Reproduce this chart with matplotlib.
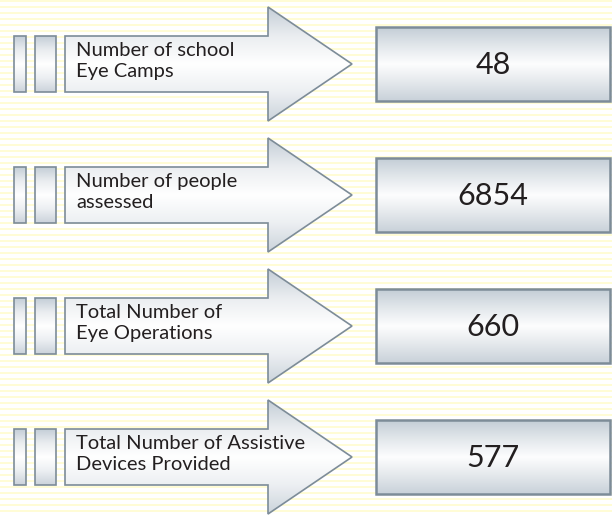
import numpy as np
import matplotlib.pyplot as plt
from matplotlib.patches import Polygon, Rectangle
from matplotlib.colors import LinearSegmentedColormap

# data
labels = ["Number of school\nEye Camps",
          "Number of people\nassessed",
          "Total Number of\nEye Operations",
          "Total Number of Assistive\nDevices Provided"]
values = [48, 6854, 660, 577]

W, H = 612, 515
fig = plt.figure(figsize=(W / 100, H / 100), dpi=100)
ax = fig.add_axes([0, 0, 1, 1])
ax.set_xlim(0, W)
ax.set_ylim(H, 0)
ax.axis("off")

# striped background
stripe = np.ones((H, 1, 3))
for y in range(H):
    if y % 6 in (0, 1):
        stripe[y, 0] = (1.0, 0.99, 0.84)
ax.imshow(stripe, extent=(0, W, H, 0), aspect="auto", interpolation="nearest", zorder=0)

edge = "#7d8c98"
grad = LinearSegmentedColormap.from_list(
    "g", ["#c4ced7", "#eaedf0", "#ffffff", "#eceff2", "#cbd3db"])
box_grad = LinearSegmentedColormap.from_list(
    "b", ["#c3cdd6", "#e2e7eb", "#fdfdfe", "#e4e8ec", "#c8d1d9"])


def gradient_fill(patch, x0, x1, y0, y1, cmap):
    ax.add_patch(patch)
    g = np.linspace(0, 1, 256).reshape(-1, 1)
    im = ax.imshow(g, cmap=cmap, extent=(x0, x1, y1, y0), aspect="auto",
                   interpolation="bilinear", zorder=patch.get_zorder() - 0.1)
    im.set_clip_path(patch)


for i, (lab, val) in enumerate(zip(labels, values)):
    c = 64 + 131 * i
    # two small bars
    for x0, x1 in [(14, 26), (35, 56)]:
        r = Rectangle((x0, c - 28), x1 - x0, 56, facecolor="none",
                      edgecolor=edge, lw=1.2, zorder=3)
        gradient_fill(r, x0, x1, c - 28, c + 28, grad)
    # arrow
    pts = [(65, c - 28), (268, c - 28), (268, c - 57), (352, c),
           (268, c + 57), (268, c + 28), (65, c + 28)]
    arr = Polygon(pts, closed=True, facecolor="none", edgecolor=edge,
                  lw=1.2, zorder=3)
    gradient_fill(arr, 65, 352, c - 57, c + 57, grad)
    ax.text(76, c - 3, lab, fontsize=14.5, family="Lato", color="#231f20",
            va="center", ha="left", linespacing=1.25, zorder=5)
    # value box
    b = Rectangle((376, c - 37), 234, 74, facecolor="none",
                  edgecolor=edge, lw=1.8, zorder=3)
    gradient_fill(b, 376, 610, c - 37, c + 37, box_grad)
    ax.text(493, c + 1, str(val), fontsize=22, family="Lato", color="#231f20",
            va="center", ha="center", zorder=5)

fig.savefig("out.png", dpi=100)
